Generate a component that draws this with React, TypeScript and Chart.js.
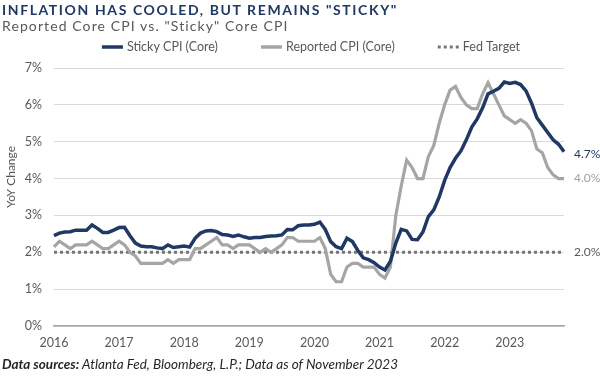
import React, { useEffect, useRef } from "react";
import { Chart, registerables } from "chart.js";

Chart.register(...registerables);

// ---------- data ----------
const START_YEAR = 2016;
const YEAR_LABELS = ["2016", "2017", "2018", "2019", "2020", "2021", "2022", "2023"];

// Atlanta Fed sticky-price core CPI, YoY %, monthly Jan 2016 - Nov 2023
const stickyCPI = [
  2.45, 2.52, 2.55, 2.56, 2.6, 2.6, 2.6, 2.74, 2.65, 2.54, 2.54, 2.6,
  2.67, 2.68, 2.45, 2.25, 2.17, 2.15, 2.15, 2.12, 2.1, 2.2, 2.13, 2.15,
  2.17, 2.14, 2.38, 2.52, 2.58, 2.59, 2.56, 2.48, 2.47, 2.43, 2.47, 2.42,
  2.38, 2.4, 2.4, 2.43, 2.44, 2.45, 2.47, 2.62, 2.61, 2.72, 2.74, 2.74,
  2.76, 2.82, 2.62, 2.29, 2.15, 2.1, 2.38, 2.29, 2.05, 1.85, 1.8, 1.72,
  1.6, 1.52, 1.75, 2.25, 2.62, 2.58, 2.35, 2.34, 2.55, 2.97, 3.15, 3.5,
  3.95, 4.3, 4.55, 4.75, 5.05, 5.4, 5.62, 5.92, 6.3, 6.37, 6.45, 6.62,
  6.58, 6.61, 6.55, 6.38, 6.05, 5.65, 5.45, 5.25, 5.05, 4.93, 4.73,
];

// Reported core CPI, YoY %
const reportedCPI = [
  2.15, 2.3, 2.2, 2.1, 2.2, 2.2, 2.2, 2.3, 2.2, 2.1, 2.1, 2.2,
  2.3, 2.2, 2.0, 1.9, 1.7, 1.7, 1.7, 1.7, 1.7, 1.8, 1.7, 1.8,
  1.8, 1.8, 2.1, 2.1, 2.2, 2.3, 2.4, 2.2, 2.2, 2.1, 2.2, 2.2,
  2.2, 2.1, 2.0, 2.1, 2.0, 2.1, 2.2, 2.4, 2.4, 2.3, 2.3, 2.3,
  2.3, 2.4, 2.1, 1.4, 1.2, 1.2, 1.6, 1.7, 1.7, 1.6, 1.6, 1.6,
  1.4, 1.3, 1.6, 3.0, 3.8, 4.5, 4.3, 4.0, 4.0, 4.6, 4.9, 5.5,
  6.0, 6.4, 6.5, 6.2, 6.0, 5.9, 5.9, 6.3, 6.6, 6.3, 6.0, 5.7,
  5.6, 5.5, 5.6, 5.5, 5.3, 4.8, 4.7, 4.3, 4.1, 4.0, 4.0,
];

const FED_TARGET = 2.0;
const Y_MIN = 0;
const Y_MAX = 7;

const END_LABELS = ["4.7%", "4.0%", "2.0%"];
const LEGEND_LABELS = ["Sticky CPI (Core)", "Reported CPI (Core)", "Fed Target"];

const monthLabels = stickyCPI.map(
  (_, i) => `${START_YEAR + Math.floor(i / 12)}-${String((i % 12) + 1).padStart(2, "0")}`
);
const fedTargetSeries = stickyCPI.map(() => FED_TARGET);

// ---------- style ----------
const NAVY = "#1F3864";
const LIGHT_GRAY = "#A5A5A5";
const FED_GRAY = "#767676";
const TEXT = "#595959";
const FONT = "Lato, 'Open Sans', sans-serif";

const overlayPlugin = {
  id: "overlay",
  afterDraw(chart: any) {
    const ctx = chart.ctx as CanvasRenderingContext2D;
    const xs = chart.scales.x;
    const ys = chart.scales.y;
    const last = stickyCPI.length - 1;
    const xEnd = xs.getPixelForValue(last);
    ctx.save();
    // end labels
    ctx.textBaseline = "middle";
    ctx.textAlign = "left";
    ctx.font = `12px ${FONT}`;
    ctx.fillStyle = NAVY;
    ctx.fillText(END_LABELS[0], xEnd + 10, ys.getPixelForValue(stickyCPI[last]) + 2);
    ctx.fillStyle = "#A0A0A0";
    ctx.fillText(END_LABELS[1], xEnd + 10, ys.getPixelForValue(reportedCPI[last]));
    ctx.fillStyle = TEXT;
    ctx.fillText(END_LABELS[2], xEnd + 10, ys.getPixelForValue(FED_TARGET));

    // y-axis title
    ctx.save();
    ctx.translate(11, 177);
    ctx.rotate(-Math.PI / 2);
    ctx.textAlign = "center";
    ctx.font = `12px ${FONT}`;
    ctx.fillStyle = TEXT;
    ctx.fillText("YoY Change", 0, 0);
    ctx.restore();

    // legend
    ctx.font = `12.5px ${FONT}`;
    const sampleW = 21;
    const sampleGap = 4;
    const itemGap = 43;
    const widths = LEGEND_LABELS.map((t) => ctx.measureText(t).width);
    const total =
      widths.reduce((a, b) => a + b, 0) +
      LEGEND_LABELS.length * (sampleW + sampleGap) +
      itemGap * (LEGEND_LABELS.length - 1);
    let x = 311 - total / 2;
    const ly = 47;
    const styles = [
      { color: NAVY, w: 3.5, dash: [] as number[] },
      { color: LIGHT_GRAY, w: 3.5, dash: [] as number[] },
      { color: FED_GRAY, w: 3, dash: [3, 3] },
    ];
    LEGEND_LABELS.forEach((t, i) => {
      const s = styles[i];
      ctx.strokeStyle = s.color;
      ctx.lineWidth = s.w;
      ctx.setLineDash(s.dash);
      ctx.beginPath();
      ctx.moveTo(x, ly);
      ctx.lineTo(x + sampleW, ly);
      ctx.stroke();
      ctx.setLineDash([]);
      ctx.fillStyle = TEXT;
      ctx.textAlign = "left";
      ctx.fillText(t, x + sampleW + sampleGap, ly);
      x += sampleW + sampleGap + widths[i] + itemGap;
    });
    ctx.restore();
  },
};

function ChartCanvas() {
  const ref = useRef<HTMLCanvasElement | null>(null);
  useEffect(() => {
    if (!ref.current) return;
    const chart = new Chart(ref.current, {
      type: "line",
      data: {
        labels: monthLabels,
        datasets: [
          {
            label: LEGEND_LABELS[2],
            data: fedTargetSeries,
            borderColor: FED_GRAY,
            borderWidth: 3,
            borderDash: [3, 3],
            pointRadius: 0,
            tension: 0,
            order: 3,
          },
          {
            label: LEGEND_LABELS[1],
            data: reportedCPI,
            borderColor: LIGHT_GRAY,
            borderWidth: 3.2,
            pointRadius: 0,
            tension: 0,
            order: 2,
          },
          {
            label: LEGEND_LABELS[0],
            data: stickyCPI,
            borderColor: NAVY,
            borderWidth: 3.5,
            pointRadius: 0,
            tension: 0,
            order: 1,
          },
        ],
      },
      options: {
        animation: false,
        responsive: false,
        maintainAspectRatio: false,
        layout: { padding: { top: 68, right: 36, bottom: 27, left: 0 } },
        plugins: {
          legend: { display: false },
          tooltip: { enabled: false },
          title: { display: false },
        },
        scales: {
          x: {
            type: "category",
            offset: false,
            grid: { display: false, drawTicks: false },
            border: { display: true, color: "#A6A6A6", width: 1.5 },
            ticks: {
              autoSkip: false,
              maxRotation: 0,
              padding: 9,
              color: TEXT,
              font: { family: FONT, size: 12.5 },
              callback: (_v: any, i: number) => (i % 12 === 0 ? YEAR_LABELS[i / 12] : ""),
            },
            afterFit: (s: any) => {
              s.height = 24;
            },
          },
          y: {
            min: Y_MIN,
            max: Y_MAX,
            grid: { color: "#D9D9D9", lineWidth: 1, drawTicks: false },
            border: { display: false },
            ticks: {
              stepSize: 1,
              padding: 12,
              color: TEXT,
              font: { family: FONT, size: 12.5 },
              callback: (v: any) => `${v}%`,
            },
            afterFit: (s: any) => {
              s.width = 54;
            },
          },
        },
      },
      plugins: [overlayPlugin],
    });
    return () => chart.destroy();
  }, []);
  return <canvas ref={ref} width={600} height={377} style={{ position: "absolute", left: 0, top: 0 }} />;
}

export default function App() {
  return (
    <div
      style={{
        position: "fixed",
        left: 0,
        top: 0,
        width: 600,
        height: 377,
        background: "#fff",
        overflow: "hidden",
      }}
    >
      <ChartCanvas />
      <div
        style={{
          position: "absolute",
          left: 2,
          top: 1,
          fontFamily: FONT,
          fontWeight: 700,
          fontSize: 14,
          letterSpacing: 1.6,
          color: NAVY,
          whiteSpace: "nowrap",
        }}
      >
        INFLATION HAS COOLED, BUT REMAINS "STICKY"
      </div>
      <div
        style={{
          position: "absolute",
          left: 2,
          top: 17,
          fontFamily: FONT,
          fontSize: 14,
          letterSpacing: 1.1,
          color: TEXT,
          whiteSpace: "nowrap",
        }}
      >
        Reported Core CPI vs. "Sticky" Core CPI
      </div>
      <div
        style={{
          position: "absolute",
          left: 2,
          top: 356,
          fontFamily: FONT,
          fontStyle: "italic",
          fontSize: 13.5,
          color: "#262626",
          whiteSpace: "nowrap",
        }}
      >
        <b>Data sources:</b> Atlanta Fed, Bloomberg, L.P.; Data as of November 2023
      </div>
    </div>
  );
}
